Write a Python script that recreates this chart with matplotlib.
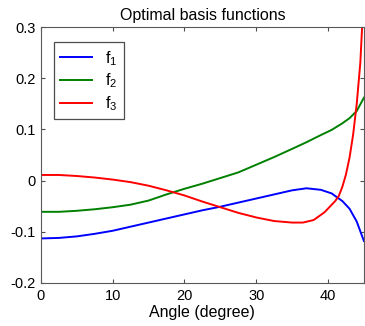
import matplotlib.pyplot as plt
import numpy as np

plt.rcParams['font.family'] = ['Liberation Sans', 'DejaVu Sans']
plt.rcParams['mathtext.fontset'] = 'custom'
plt.rcParams['mathtext.rm'] = 'Liberation Sans'
plt.rcParams['mathtext.it'] = 'Liberation Sans'

# angle samples (degree)
ang = [0, 2.5, 5, 7.5, 10, 12.5, 15, 17.5, 20, 22.5, 25, 27.5, 30, 32.5, 35,
       37, 39, 40.5, 42, 43, 44, 45]
f1 = [-0.113, -0.112, -0.109, -0.104, -0.098, -0.090, -0.082, -0.074, -0.066,
      -0.058, -0.051, -0.043, -0.035, -0.027, -0.019, -0.015, -0.018, -0.025,
      -0.040, -0.055, -0.080, -0.118]
f2 = [-0.061, -0.061, -0.059, -0.056, -0.052, -0.047, -0.039, -0.027, -0.016,
      -0.006, 0.005, 0.016, 0.031, 0.046, 0.062, 0.075, 0.089, 0.099, 0.112,
      0.122, 0.136, 0.162]

ang3 = [0, 2.5, 5, 7.5, 10, 12.5, 15, 17.5, 20, 22.5, 25, 27.5, 30, 32.5, 35,
        36.5, 38, 39.5, 41, 41.5, 42, 42.5, 43, 43.5, 44, 44.5, 44.75, 45]
f3 = [0.011, 0.011, 0.009, 0.006, 0.002, -0.003, -0.010, -0.019, -0.029,
      -0.041, -0.052, -0.063, -0.072, -0.079, -0.082, -0.082, -0.077, -0.062,
      -0.040, -0.030, -0.012, 0.012, 0.045, 0.090, 0.150, 0.230, 0.300, 0.380]

xticks = [0, 10, 20, 30, 40]
yticks = [-0.2, -0.1, 0, 0.1, 0.2, 0.3]

fig = plt.figure(figsize=(3.65, 3.26), dpi=100)
ax = fig.add_axes([0.112, 0.132, 0.885, 0.785])

ax.plot(ang, f1, color='#0000ff', lw=1.4, label='f$_1$')
ax.plot(ang, f2, color='#008000', lw=1.4, label='f$_2$')
ax.plot(ang3, f3, color='#ff0000', lw=1.4, label='f$_3$')

ax.set_xlim(0, 45)
ax.set_ylim(-0.2, 0.3)
ax.set_xticks(xticks)
ax.set_yticks(yticks)
ax.set_yticklabels(['-0.2', '-0.1', '0', '0.1', '0.2', '0.3'])
ax.tick_params(direction='in', top=True, right=True, labelsize=10.5,
               length=3, color='0.3', pad=4)
for s in ax.spines.values():
    s.set_color('0.35')

ax.set_title('Optimal basis functions', fontsize=11.5, pad=5)
ax.set_xlabel('Angle (degree)', fontsize=11.5, labelpad=2)

leg = ax.legend(loc='upper left', bbox_to_anchor=(0.04, 0.94), borderaxespad=0,
                fancybox=False, edgecolor='0.3', framealpha=1, fontsize=11.5,
                handlelength=2.0, labelspacing=0.25, handletextpad=0.8)
leg.get_frame().set_linewidth(0.9)

plt.savefig('out.png', dpi=100)
